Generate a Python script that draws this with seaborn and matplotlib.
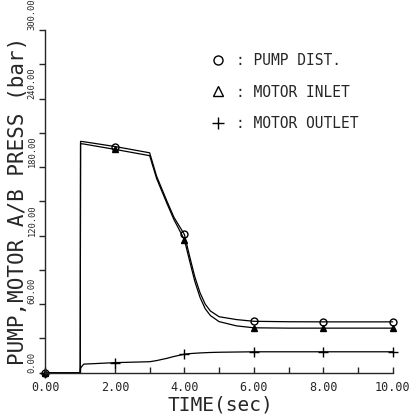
import matplotlib
matplotlib.use('Agg')
import matplotlib.pyplot as plt
from matplotlib.lines import Line2D
from matplotlib.ticker import MultipleLocator, FormatStrFormatter
import seaborn as sns
import pandas as pd

# values
time = [0.0, 1.0, 1.01, 1.1, 2.0, 3.0, 3.2, 3.5, 3.7, 4.0, 4.15, 4.3, 4.45, 4.6,
        4.75, 5.0, 5.5, 6.0, 7.0, 8.0, 9.0, 10.0]
pump_dist = [0, 0, 202.5, 202.2, 198, 192.5, 172, 150, 136, 121, 102, 84, 70, 60,
             54, 49, 46.5, 45, 44.6, 44.5, 44.5, 44.5]
motor_inlet = [0, 0, 200.5, 200.2, 195.5, 190, 170, 148, 134, 116.5, 98, 80, 66, 56,
               50, 44.7, 41, 39.3, 39, 39, 39, 39]
motor_outlet = [0, 0, 4, 7.5, 8.8, 9.6, 10.6, 12.6, 14.2, 16.2, 16.7, 17.0, 17.3, 17.5,
                17.7, 17.9, 18.1, 18.3, 18.3, 18.3, 18.3, 18.3]
marker_times = [0, 2, 4, 6, 8, 10]
legend_labels = [": PUMP DIST.", ": MOTOR INLET", ": MOTOR OUTLET"]

sns.set_style("ticks")
plt.rcParams['font.family'] = ['DejaVu Sans Mono']

df = pd.DataFrame({'time': time, 'pump': pump_dist,
                   'inlet': motor_inlet, 'outlet': motor_outlet})
mark_idx = [i for i, t in enumerate(time) if t in marker_times]

fig = plt.figure(figsize=(4.15, 4.16), dpi=100)
ax = fig.add_axes([0.1096, 0.1041, 0.8367, 0.8238])

common = dict(ax=ax, color='black', linewidth=0.9, markevery=mark_idx,
              markeredgecolor='black', clip_on=False)
sns.lineplot(data=df, x='time', y='pump', marker='o', markersize=5,
             markerfacecolor='none', markeredgewidth=1, **common)
sns.lineplot(data=df, x='time', y='inlet', marker='^', markersize=5,
             markerfacecolor='black', markeredgewidth=1, **common)
sns.lineplot(data=df, x='time', y='outlet', marker='+', markersize=7,
             markeredgewidth=1, **common)

ax.set_xlim(0, 10)
ax.set_ylim(0, 300)
ax.xaxis.set_major_locator(MultipleLocator(2))
ax.xaxis.set_minor_locator(MultipleLocator(1))
ax.yaxis.set_major_locator(MultipleLocator(60))
ax.yaxis.set_minor_locator(MultipleLocator(30))
ax.xaxis.set_major_formatter(FormatStrFormatter('%.2f'))
ax.yaxis.set_major_formatter(FormatStrFormatter('%.2f'))

ax.tick_params(axis='x', which='both', direction='in', length=4, width=1,
               labelsize=8.5, pad=6)
ax.tick_params(axis='y', which='both', direction='out', length=4.5, width=1,
               labelsize=6.3, pad=2)
plt.setp(ax.get_yticklabels(), rotation=90, va='bottom')

for s in ['left', 'bottom']:
    ax.spines[s].set_linewidth(1)
sns.despine(ax=ax)

ax.set_xlabel("TIME(sec)", fontsize=14)
ax.set_ylabel("PUMP,MOTOR A/B PRESS (bar)", fontsize=15)
ax.xaxis.set_label_coords(0.505, -0.066)
ax.yaxis.set_label_coords(-0.05, 0.5)

handles = [
    Line2D([], [], ls='none', marker='o', ms=6.5, mfc='none', mec='black', mew=1),
    Line2D([], [], ls='none', marker='^', ms=6.5, mfc='none', mec='black', mew=1),
    Line2D([], [], ls='none', marker='+', ms=8, mec='black', mew=1),
]
ax.legend(handles, legend_labels, loc='upper left', bbox_to_anchor=(0.4767, 0.933),
          frameon=False, fontsize=10.5, handlelength=1.0, handletextpad=0.69,
          labelspacing=1.14, borderpad=0, borderaxespad=0)

fig.savefig('out.png', dpi=100)
